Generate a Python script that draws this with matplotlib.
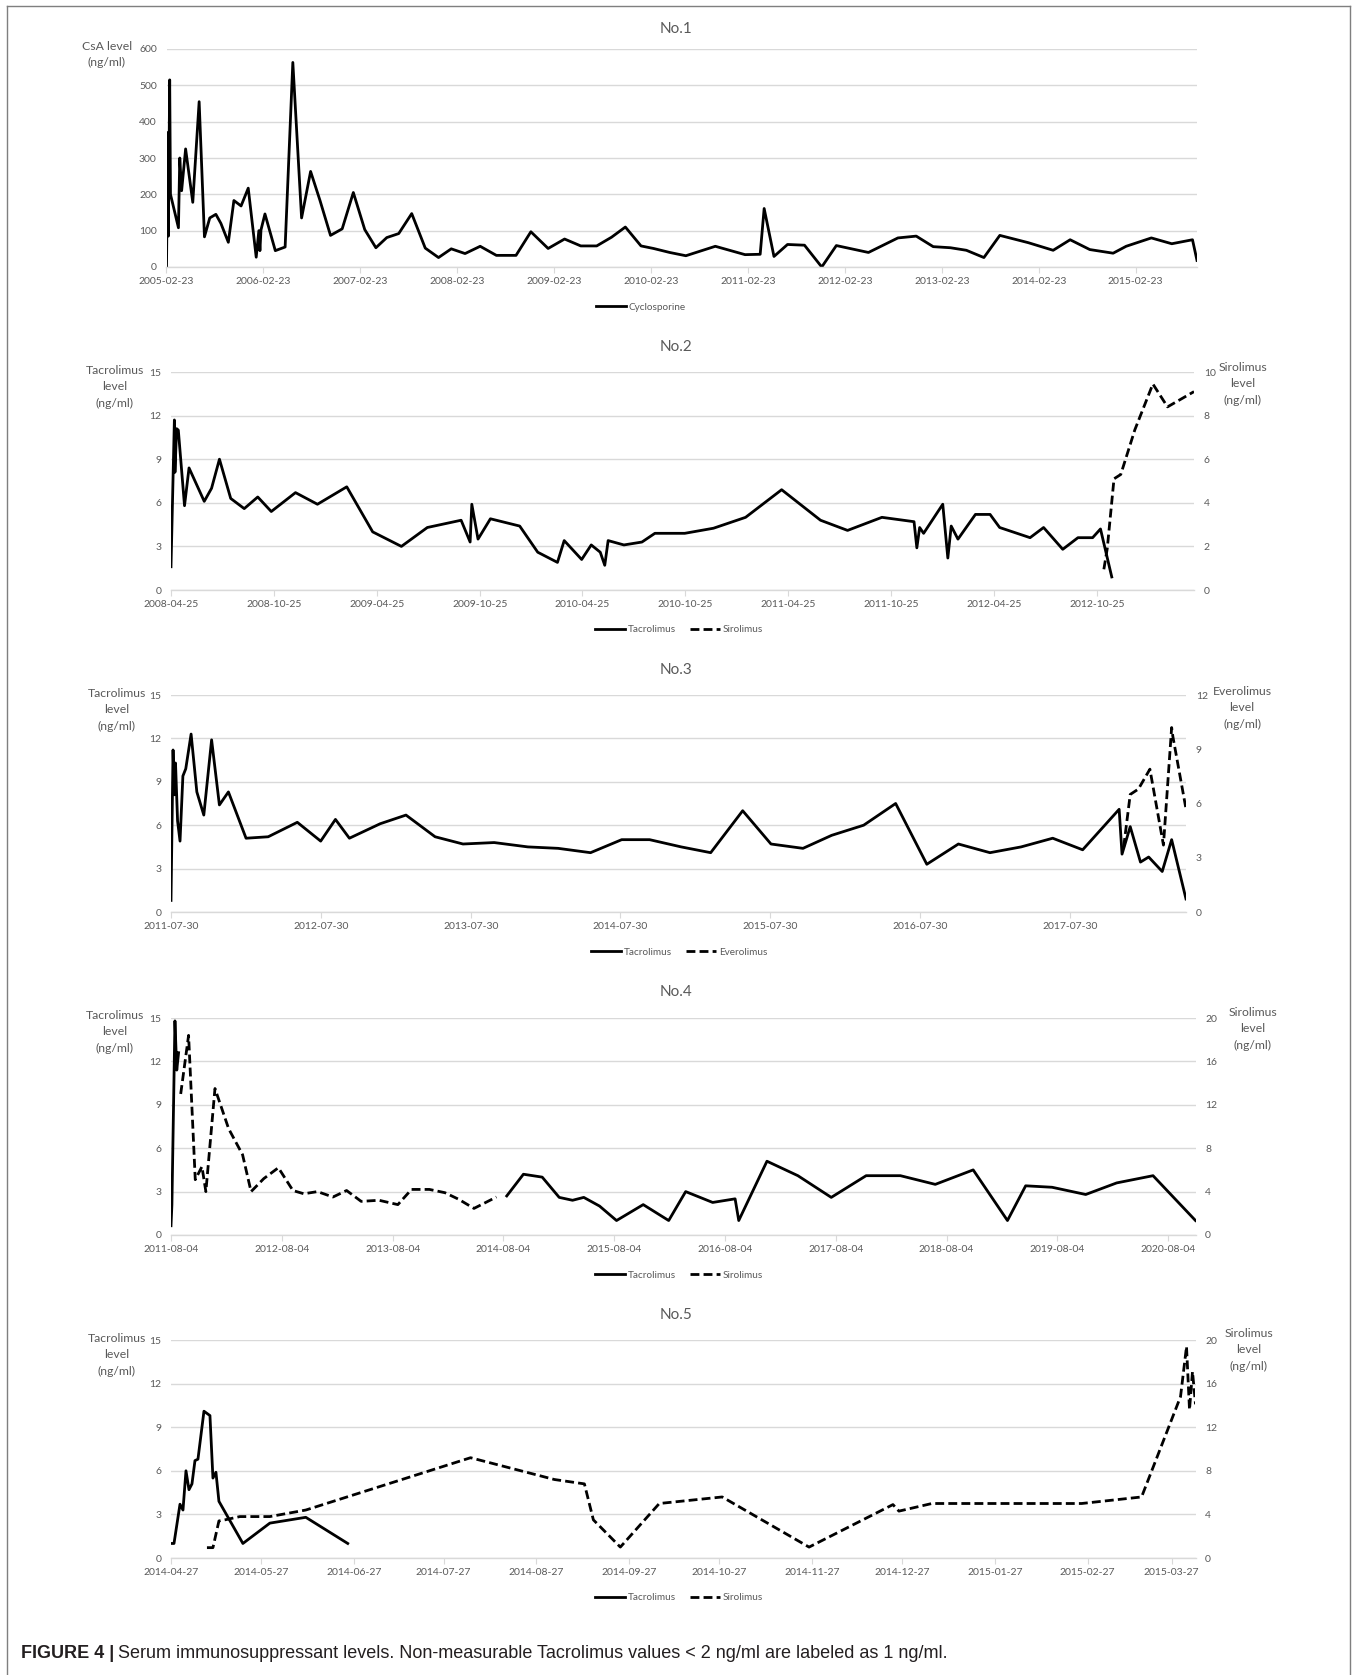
import numpy as np
import pandas as pd
import matplotlib
matplotlib.use('Agg')
import matplotlib.pyplot as plt
from matplotlib.lines import Line2D

W, H = 1362, 1675
plt.rcParams['font.family'] = ['Lato', 'DejaVu Sans']

GREY = '#595959'
GRID = '#d9d9d9'
DASH = (0, (3.2, 1.5))

# ---- No.1 : cyclosporine (days since first sample, ng/ml)
p1_start = '2005-02-23'
p1_days = [0, 5, 7, 12, 15, 45, 50, 57, 72, 99, 123, 143, 163, 186, 205, 233, 254,
           281, 308, 338, 348, 352, 356, 371, 410, 447, 476, 509, 543, 578, 618, 662,
           704, 747, 789, 830, 875, 924, 975, 1025, 1073, 1125, 1182, 1243, 1317, 1373,
           1438, 1500, 1561, 1621, 1677, 1729, 1788, 1835, 1896, 1957, 2068, 2180, 2237,
           2252, 2289, 2340, 2404, 2469, 2524, 2645, 2756, 2825, 2889, 2954, 3014, 3080,
           3140, 3247, 3341, 3405, 3479, 3567, 3616, 3711, 3788, 3866, 3883]
p1_csa = [0, 370, 85, 515, 200, 108, 300, 210, 325, 178, 455, 83, 135, 145, 120, 68, 183,
          168, 217, 27, 100, 45, 102, 146, 45, 55, 563, 135, 263, 184, 87, 105,
          205, 103, 53, 81, 92, 147, 52, 26, 50, 37, 57, 32, 32, 97,
          51, 77, 58, 58, 82, 110, 58, 51, 40, 31, 57, 34, 35,
          161, 29, 62, 60, 0, 59, 40, 80, 85, 56, 53, 46, 26,
          87, 67, 46, 75, 48, 38, 57, 80, 64, 75, 18]

# ---- No.2 : tacrolimus + sirolimus
p2_start = '2008-04-25'
p2_tac_days = [0, 6, 7, 10, 13, 24, 32, 59, 72, 86, 106, 130, 154, 178, 221, 260, 312,
               358, 409, 455, 515, 531, 534, 545, 567, 619, 651, 686, 698, 729, 746, 762,
               770, 776, 804, 836, 859, 912, 963, 1020, 1084, 1153, 1201, 1262, 1319, 1324,
               1329, 1336, 1370, 1379, 1385, 1397, 1428, 1454, 1471, 1525, 1549, 1583,
               1610, 1636, 1650, 1670]
p2_tac = [1.6, 11.7, 8.1, 11.1, 11.0, 5.8, 8.4, 6.1, 7.0, 9.0, 6.3, 5.6, 6.4, 5.4, 6.7, 5.9,
          7.1, 4.0, 3.0, 4.3, 4.8, 3.3, 5.9, 3.5, 4.9, 4.4, 2.6, 1.9, 3.4, 2.1, 3.1, 2.6,
          1.7, 3.4, 3.1, 3.3, 3.9, 3.9, 4.25, 5.0, 6.9, 4.8, 4.1, 5.0, 4.7, 2.9, 4.3, 3.9,
          5.9, 2.2, 4.4, 3.5, 5.2, 5.2, 4.3, 3.6, 4.3, 2.8, 3.6, 3.6, 4.2, 0.9]
p2_sir_days = [1656, 1662, 1674, 1686, 1711, 1743, 1769, 1816]
p2_sir = [0.95, 1.9, 5.1, 5.3, 7.35, 9.45, 8.4, 9.1]

# ---- No.3 : tacrolimus + everolimus
p3_start = '2011-07-30'
p3_tac_days = [0, 5, 8, 11, 16, 22, 29, 36, 49, 63, 80, 99, 118, 140, 183, 237, 308, 365,
               401, 435, 510, 573, 644, 712, 788, 870, 944, 1023, 1099, 1167, 1244, 1316,
               1394, 1463, 1541, 1611, 1689, 1767, 1843, 1920, 1997, 2073, 2150, 2223,
               2312, 2319, 2339, 2364, 2384, 2417, 2440, 2475]
p3_tac = [0.8, 11.2, 8.1, 10.3, 6.3, 4.9, 9.4, 9.9, 12.3, 8.3, 6.7, 11.9, 7.4, 8.3, 5.1,
          5.2, 6.2, 4.9, 6.4, 5.1, 6.1, 6.7, 5.2, 4.7, 4.8, 4.5, 4.4, 4.1, 5.0, 5.0, 4.5,
          4.1, 7.0, 4.7, 4.4, 5.3, 6.0, 7.5, 3.3, 4.7, 4.1, 4.5, 5.1, 4.3, 7.1, 4.0, 5.9,
          3.45, 3.8, 2.8, 5.0, 0.9]
p3_eve_days = [2323, 2339, 2359, 2387, 2420, 2440, 2443, 2475]
p3_eve = [3.6, 6.5, 6.8, 7.9, 3.7, 10.2, 9.7, 5.7]

# ---- No.4 : tacrolimus (gap while on sirolimus) + sirolimus
p4_start = '2011-08-04'
p4_tac_days = [0, 3, 13, 19, 25, 60, 1107, 1162, 1224, 1280, 1324, 1361, 1413, 1469, 1557,
               1641, 1697, 1786, 1860, 1872, 1965, 2067, 2177, 2292, 2405, 2520, 2645,
               2758, 2818, 2905, 3016, 3118, 3238, 3378]
p4_tac = [0.64, 2.1, 14.8, 11.4, 12.6, np.nan, 2.7, 4.2, 4.0, 2.6, 2.4, 2.6, 2.0, 1.0, 2.1,
          1.0, 3.0, 2.25, 2.5, 1.0, 5.1, 4.1, 2.6, 4.1, 4.1, 3.5, 4.5, 1.0, 3.4, 3.3, 2.8,
          3.6, 4.1, 1.0]
p4_sir_days = [32, 58, 80, 102, 115, 145, 190, 236, 264, 306, 354, 402, 438, 483, 534, 579,
               627, 686, 748, 793, 852, 903, 948, 999, 1073]
p4_sir = [13.0, 18.4, 5.1, 6.3, 4.0, 13.5, 9.8, 7.4, 4.0, 5.2, 6.2, 4.1, 3.8, 4.0, 3.5, 4.1,
          3.1, 3.2, 2.8, 4.2, 4.2, 3.9, 3.3, 2.45, 3.5]

# ---- No.5 : tacrolimus + sirolimus
p5_start = '2014-04-27'
p5_tac_days = [0, 1, 3, 4, 5, 6, 7, 8, 9, 11, 13, 14, 15, 16, 24, 33, 45, 59]
p5_tac = [1.0, 1.0, 3.7, 3.3, 6.0, 4.7, 5.1, 6.7, 6.8, 10.1, 9.8, 5.5, 5.9, 3.9, 1.0, 2.4,
          2.8, 1.0]
p5_sir_days = [12, 14, 16, 18, 23, 33, 45, 100, 128, 138, 141, 150, 163, 184, 213, 241,
               243, 254, 304, 324, 337, 339, 340, 341, 342]
p5_sir = [0.95, 0.95, 3.4, 3.5, 3.8, 3.8, 4.4, 9.2, 7.2, 6.8, 3.5, 1.0, 5.0, 5.6, 1.0, 4.9,
          4.3, 5.0, 5.0, 5.6, 14.8, 19.4, 13.6, 17.1, 14.1]


def px_rect(l, t, r, b):
    return [l / W, 1 - b / H, (r - l) / W, (b - t) / H]


def to_dates(start, days):
    return (pd.Timestamp(start) + pd.to_timedelta(days, unit='D')).values


def base_axes(rect, start, end_day, step_months, ymax, ystep):
    ax = fig.add_axes(px_rect(*rect))
    t0 = pd.Timestamp(start)
    t1 = t0 + pd.Timedelta(days=end_day)
    ax.set_xlim(t0, t1)
    ticks = pd.date_range(t0, t1, freq=pd.DateOffset(months=step_months))
    ax.set_xticks(ticks)
    ax.set_xticklabels([t.strftime('%Y-%m-%d') for t in ticks])
    ax.set_ylim(0, ymax)
    ax.set_yticks(np.arange(0, ymax + 0.1, ystep))
    for s in ['top', 'left', 'right']:
        ax.spines[s].set_visible(False)
    ax.spines['bottom'].set_color(GRID)
    ax.spines['bottom'].set_linewidth(1)
    ax.yaxis.grid(True, color=GRID, lw=1)
    ax.set_axisbelow(True)
    ax.tick_params(axis='x', length=4, color=GRID, labelcolor=GREY, labelsize=7.5, pad=3)
    ax.tick_params(axis='y', length=0, labelcolor=GREY, labelsize=7.5, pad=7)
    return ax


def right_axes(ax, ymax, ystep):
    ax2 = ax.twinx()
    ax2.set_ylim(0, ymax)
    ax2.set_yticks(np.arange(0, ymax + 0.1, ystep))
    for s in ax2.spines.values():
        s.set_visible(False)
    ax2.tick_params(axis='y', length=0, labelcolor=GREY, labelsize=7.5, pad=7)
    return ax2


def label(x, y, text):
    fig.text(x / W, 1 - y / H, text, ha='center', va='top', color=GREY,
             fontsize=8.8, linespacing=1.6)


def title(y, text):
    fig.text(676 / W, 1 - y / H, text, ha='center', va='center', color=GREY, fontsize=11)


def legend(cx, cy, names, styles):
    handles = [Line2D([], [], color='black', lw=2, ls=st) for st in styles]
    fig.legend(handles, names, loc='center', bbox_to_anchor=(cx / W, 1 - cy / H),
               ncol=len(names), frameon=False, fontsize=7.2, handlelength=3.0,
               handletextpad=0.3, columnspacing=1.4, labelcolor=GREY, borderpad=0)


fig = plt.figure(figsize=(W / 100, H / 100), dpi=100)

# No.1
ax = base_axes((166.5, 49, 1197, 267), p1_start, 3883, 12, 600, 100)
ax.plot(to_dates(p1_start, p1_days), p1_csa, color='black', lw=2)
title(29, 'No.1')
label(107, 41, 'CsA level\n(ng/ml)')
legend(641, 307, ['Cyclosporine'], ['-'])

# No.2
ax = base_axes((171, 372, 1194, 590), p2_start, 1816, 6, 15, 3)
ax.plot(to_dates(p2_start, p2_tac_days), p2_tac, color='black', lw=2)
ax2 = right_axes(ax, 10, 2)
ax2.plot(to_dates(p2_start, p2_sir_days), p2_sir, color='black', lw=2, ls=DASH)
title(347, 'No.2')
label(115, 365, 'Tacrolimus\nlevel\n(ng/ml)')
label(1243, 362, 'Sirolimus\nlevel\n(ng/ml)')
legend(679, 630, ['Tacrolimus', 'Sirolimus'], ['-', DASH])

# No.3
ax = base_axes((171, 695, 1186, 912), p3_start, 2475, 12, 15, 3)
ax.plot(to_dates(p3_start, p3_tac_days), p3_tac, color='black', lw=2)
ax2 = right_axes(ax, 12, 3)
ax2.plot(to_dates(p3_start, p3_eve_days), p3_eve, color='black', lw=2, ls=DASH)
title(670, 'No.3')
label(117, 688, 'Tacrolimus\nlevel\n(ng/ml)')
label(1242, 686, 'Everolimus\nlevel\n(ng/ml)')
legend(679, 952, ['Tacrolimus', 'Everolimus'], ['-', DASH])

# No.4
ax = base_axes((171, 1018, 1195.5, 1235), p4_start, 3378, 12, 15, 3)
ax.plot(to_dates(p4_start, p4_tac_days), p4_tac, color='black', lw=2)
ax2 = right_axes(ax, 20, 4)
ax2.plot(to_dates(p4_start, p4_sir_days), p4_sir, color='black', lw=2, ls=DASH)
title(992, 'No.4')
label(115, 1010, 'Tacrolimus\nlevel\n(ng/ml)')
label(1253, 1007, 'Sirolimus\nlevel\n(ng/ml)')
legend(679, 1275, ['Tacrolimus', 'Sirolimus'], ['-', DASH])

# No.5
ax = base_axes((171, 1340, 1195.5, 1558), p5_start, 342, 1, 15, 3)
ax.plot(to_dates(p5_start, p5_tac_days), p5_tac, color='black', lw=2)
ax2 = right_axes(ax, 20, 4)
ax2.plot(to_dates(p5_start, p5_sir_days), p5_sir, color='black', lw=2, ls=DASH)
title(1315, 'No.5')
label(117, 1333, 'Tacrolimus\nlevel\n(ng/ml)')
label(1249, 1328, 'Sirolimus\nlevel\n(ng/ml)')
legend(679, 1598, ['Tacrolimus', 'Sirolimus'], ['-', DASH])

# frame round the figure (open at the bottom)
for xs, ys in [([7, 7], [1675, 6]), ([7, 1350], [6, 6]), ([1350, 1350], [6, 1675])]:
    fig.add_artist(Line2D([x / W for x in xs], [1 - y / H for y in ys],
                          color='#7f7f7f', lw=1))

# caption
cap_font = ['Liberation Sans Narrow', 'Liberation Sans', 'DejaVu Sans']
t = fig.text(21 / W, 1 - 1653 / H, 'FIGURE 4 |', family=cap_font, weight='bold',
             fontsize=13, va='center', color='#231f20')
fig.canvas.draw()
bb = t.get_window_extent()
fig.text((bb.x1 + 4) / W, 1 - 1653 / H,
         'Serum immunosuppressant levels. Non-measurable Tacrolimus values < 2 ng/ml '
         'are labeled as 1 ng/ml.', family=cap_font, fontsize=13, va='center',
         color='#231f20')

fig.savefig('out.png', dpi=100)
